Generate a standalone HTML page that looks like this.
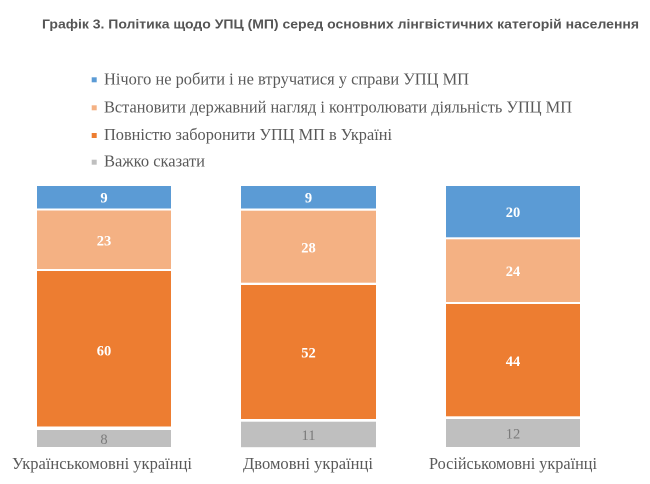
<!DOCTYPE html>
<html>
<head>
<meta charset="utf-8">
<style>
  html,body{margin:0;padding:0;background:#fff;}
  svg{display:block;}
  .title{font-family:"Liberation Sans",Arial,sans-serif;font-weight:bold;font-size:13px;fill:#555;}
  .leg{font-family:"Liberation Serif","Times New Roman",serif;font-size:16.5px;fill:#595959;}
  .cat{font-family:"Liberation Serif","Times New Roman",serif;font-size:17px;fill:#595959;}
  .dl{font-family:"Liberation Serif","Times New Roman",serif;font-size:14.5px;font-weight:bold;fill:#ffffff;}
  .dg{font-family:"Liberation Serif","Times New Roman",serif;font-size:14.5px;fill:#7a7a7a;}
</style>
</head>
<body>
<svg width="650" height="484" viewBox="0 0 650 484" xmlns="http://www.w3.org/2000/svg">
  <rect width="650" height="484" fill="#ffffff"/>
  <text class="title" x="42" y="28.3" textLength="597" lengthAdjust="spacingAndGlyphs">Графік 3. Політика щодо УПЦ (МП) серед основних лінгвістичних категорій населення</text>

  <!-- legend -->
  <rect x="91.7" y="77.3" width="5" height="5" fill="#5B9BD5"/>
  <text class="leg" x="104" y="84.3" textLength="365" lengthAdjust="spacingAndGlyphs">Нічого не робити і не втручатися у справи УПЦ МП</text>
  <rect x="91.7" y="105.3" width="5" height="5" fill="#F4B183"/>
  <text class="leg" x="104" y="112.3" textLength="468" lengthAdjust="spacingAndGlyphs">Встановити державний нагляд і контролювати діяльність УПЦ МП</text>
  <rect x="91.7" y="133" width="5" height="5" fill="#ED7D31"/>
  <text class="leg" x="104" y="140" textLength="288" lengthAdjust="spacingAndGlyphs">Повністю заборонити УПЦ МП в Україні</text>
  <rect x="91.7" y="159.7" width="5" height="5" fill="#BFBFBF"/>
  <text class="leg" x="104" y="166.7" textLength="101" lengthAdjust="spacingAndGlyphs">Важко сказати</text>

  <!-- bar 1 -->
  <rect x="37" y="186" width="134" height="22.5" fill="#5B9BD5"/>
  <rect x="37" y="210.5" width="134" height="58.5" fill="#F4B183"/>
  <rect x="37" y="271" width="134" height="155.5" fill="#ED7D31"/>
  <rect x="37" y="430" width="134" height="17" fill="#BFBFBF"/>
  <text class="dl" x="104" y="202.5" text-anchor="middle">9</text>
  <text class="dl" x="104" y="245.5" text-anchor="middle">23</text>
  <text class="dl" x="104" y="355.5" text-anchor="middle">60</text>
  <text class="dg" x="104" y="444" text-anchor="middle">8</text>

  <!-- bar 2 -->
  <rect x="241" y="186" width="135" height="22.5" fill="#5B9BD5"/>
  <rect x="241" y="210.7" width="135" height="72" fill="#F4B183"/>
  <rect x="241" y="285" width="135" height="134" fill="#ED7D31"/>
  <rect x="241" y="421.7" width="135" height="25.5" fill="#BFBFBF"/>
  <text class="dl" x="308.5" y="202.5" text-anchor="middle">9</text>
  <text class="dl" x="308.5" y="252.5" text-anchor="middle">28</text>
  <text class="dl" x="308.5" y="357.5" text-anchor="middle">52</text>
  <text class="dg" x="308.5" y="440" text-anchor="middle">11</text>

  <!-- bar 3 -->
  <rect x="446" y="186" width="134" height="51.3" fill="#5B9BD5"/>
  <rect x="446" y="239.3" width="134" height="62.7" fill="#F4B183"/>
  <rect x="446" y="304" width="134" height="112.3" fill="#ED7D31"/>
  <rect x="446" y="419" width="134" height="28" fill="#BFBFBF"/>
  <text class="dl" x="513" y="217" text-anchor="middle">20</text>
  <text class="dl" x="513" y="276" text-anchor="middle">24</text>
  <text class="dl" x="513" y="366" text-anchor="middle">44</text>
  <text class="dg" x="513" y="438.5" text-anchor="middle">12</text>

  <!-- category labels -->
  <text class="cat" x="102" y="469" text-anchor="middle" textLength="180" lengthAdjust="spacingAndGlyphs">Українськомовні українці</text>
  <text class="cat" x="308" y="469" text-anchor="middle" textLength="130" lengthAdjust="spacingAndGlyphs">Двомовні українці</text>
  <text class="cat" x="513" y="469" text-anchor="middle" textLength="168" lengthAdjust="spacingAndGlyphs">Російськомовні українці</text>
</svg>
</body>
</html>
